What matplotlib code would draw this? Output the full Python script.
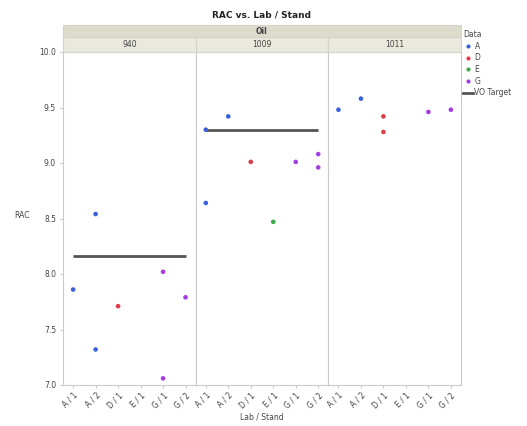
import matplotlib
matplotlib.use("Agg")
import matplotlib.pyplot as plt
from matplotlib.lines import Line2D
from matplotlib.patches import Rectangle

# data
labs = ["940", "1009", "1011"]
stands = ["A / 1", "A / 2", "D / 1", "E / 1", "G / 1", "G / 2"]

cat_940 = ["A / 1", "A / 2", "A / 2", "D / 1", "G / 1", "G / 1", "G / 2"]
rac_940 = [7.86, 8.54, 7.32, 7.71, 8.02, 7.06, 7.79]
cat_1009 = ["A / 1", "A / 1", "A / 2", "D / 1", "E / 1", "G / 1", "G / 2", "G / 2"]
rac_1009 = [8.64, 9.30, 9.42, 9.01, 8.47, 9.01, 9.08, 8.96]
cat_1011 = ["A / 1", "A / 2", "D / 1", "D / 1", "G / 1", "G / 2"]
rac_1011 = [9.48, 9.58, 9.42, 9.28, 9.46, 9.48]
vo_target = [8.16, 9.30, None]

groups = ["A", "D", "E", "G"]
group_colors = {"A": "#3a62d8", "D": "#dc3d48", "E": "#3daa48", "G": "#a43ee0"}

cats = [cat_940, cat_1009, cat_1011]
racs = [rac_940, rac_1009, rac_1011]

W, H = 527, 426
fig = plt.figure(figsize=(W / 100, H / 100), dpi=100)
plt.rcParams["font.family"] = "DejaVu Sans"
txt = "#444444"
edge = "#c9c9c9"

left, right, bottom, top = 63 / W, 461 / W, 1 - 385 / H, 1 - 52 / H
pw = (right - left) / 3
axes = []
for i, lab in enumerate(labs):
    ax = fig.add_axes([left + i * pw, bottom, pw, top - bottom])
    axes.append(ax)
    xs = [stands.index(c) for c in cats[i]]
    cols = [group_colors[c[0]] for c in cats[i]]
    ax.scatter(xs, racs[i], s=11, c=cols, zorder=3, linewidths=0)
    if vo_target[i] is not None:
        ax.plot([0, len(stands) - 1], [vo_target[i]] * 2, color="#555555",
                lw=2.0, solid_capstyle="butt", zorder=2)
    ax.set_xlim(-0.45, len(stands) - 0.55)
    ax.set_ylim(7.0, 10.0)
    ax.set_xticks(range(len(stands)))
    ax.set_xticklabels(stands, rotation=45, ha="right", rotation_mode="anchor",
                       fontsize=5.5, color=txt)
    ax.tick_params(axis="x", length=2, color=edge, pad=2)
    for s in ax.spines.values():
        s.set_color(edge)
        s.set_linewidth(0.8)
    if i == 0:
        ax.set_yticks([7.0, 7.5, 8.0, 8.5, 9.0, 9.5, 10.0])
        ax.set_yticklabels(["7.0", "7.5", "8.0", "8.5", "9.0", "9.5", "10.0"],
                           fontsize=5.5, color=txt)
        ax.tick_params(axis="y", length=2, color=edge, pad=3)
    else:
        ax.set_yticks([])
    # facet header
    fig.patches.append(Rectangle((left + i * pw, top), pw, 15 / H,
                                 transform=fig.transFigure, facecolor="#e9e9de",
                                 edgecolor="#d4d4c8", lw=0.8))
    fig.text(left + (i + 0.5) * pw, top + 7.5 / H, lab, ha="center", va="center",
             fontsize=5.5, color=txt)

fig.patches.append(Rectangle((left, top + 15 / H), right - left, 12 / H,
                             transform=fig.transFigure, facecolor="#dcdccd",
                             edgecolor="#d4d4c8", lw=0.8))
fig.text((left + right) / 2, top + 21 / H, "Oil", ha="center", va="center",
         fontsize=5.5, fontweight="bold", color=txt)
fig.text((left + right) / 2, 1 - 15 / H, "RAC vs. Lab / Stand", ha="center",
         va="center", fontsize=6.5, fontweight="bold", color="#222222")

fig.text(22 / W, 1 - 216 / H, "RAC", ha="center", va="center", fontsize=5.5,
         color=txt)
fig.text((left + right) / 2, 1 - 417 / H, "Lab / Stand", ha="center",
         va="center", fontsize=5.5, color=txt)

handles = [Line2D([], [], ls="none", marker="o", ms=3, mec="none",
                  color=group_colors[g], label=g) for g in groups]
handles.append(Line2D([], [], color="#555555", lw=2.0, label="VO Target"))
leg = fig.legend(handles=handles, title="Data", loc="upper left",
                 bbox_to_anchor=(463 / W, 1 - 30 / H), frameon=False,
                 fontsize=5.5, title_fontsize=5.5, handlelength=1.3,
                 handletextpad=0.2, labelspacing=0.35, borderaxespad=0,
                 borderpad=0)
leg._legend_box.align = "left"
for t in leg.get_texts():
    t.set_color(txt)
leg.get_title().set_color(txt)

fig.savefig("out.png", dpi=100, facecolor="white")
